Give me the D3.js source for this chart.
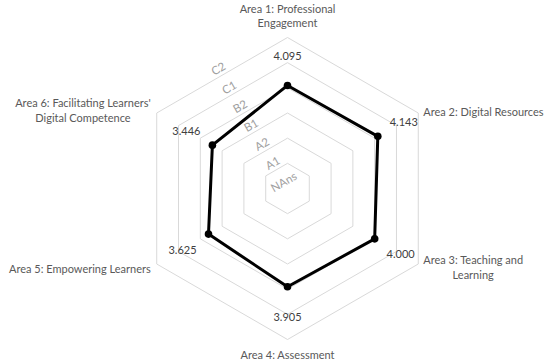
<!DOCTYPE html>
<html>
<head>
<meta charset="utf-8">
<script src="https://cdn.jsdelivr.net/npm/d3@7"></script>
<style>
  body { margin: 0; background: #fff; }
  svg { display: block; font-family: Lato, "Open Sans", sans-serif; }
</style>
</head>
<body>
<div id="chart"></div>
<script>
'use strict';

// axes, clockwise from the top
const areas = [
  ["Area 1: Professional", "Engagement"],
  ["Area 2: Digital Resources"],
  ["Area 3: Teaching and", "Learning"],
  ["Area 4: Assessment"],
  ["Area 5: Empowering Learners"],
  ["Area 6: Facilitating Learners'", "Digital Competence"]
];
const scores = [4.095, 4.143, 4.000, 3.905, 3.625, 3.446];
const levels = ["NAns", "A1", "A2", "B1", "B2", "C1", "C2"];

const width = 550;
const height = 363;
const cx = 287.5;
const cy = 188.5;
const radius = 151;

const svg = d3.select('#chart')
  .append('svg')
  .attr('width', width)
  .attr('height', height);

svg.append('rect').attr('width', width).attr('height', height).attr('fill', '#fff');

const g = svg.append('g').attr('transform', 'translate(' + cx + ',' + cy + ')');

const r = d3.scaleLinear().domain([0, levels.length - 1]).range([0, radius]);
const angle = d3.scaleLinear().domain([0, areas.length]).range([0, 2 * Math.PI]);

function point(i, v) {
  const a = angle(i);
  return [Math.sin(a) * r(v), -Math.cos(a) * r(v)];
}

const ring = d3.lineRadial()
  .angle(function(d, i) { return angle(i); })
  .radius(function(d) { return r(d); })
  .curve(d3.curveLinearClosed);

// grid hexagons
g.selectAll('.grid')
  .data(d3.range(1, levels.length))
  .enter()
  .append('path')
  .attr('class', 'grid')
  .attr('d', function(k) { return ring(areas.map(function() { return k; })); })
  .attr('fill', 'none')
  .attr('stroke', '#d9d9d9')
  .attr('stroke-width', 1);

// level labels, sitting along the edge between the first and last axis
const mid = -Math.PI / 6;
g.selectAll('.level')
  .data(levels)
  .enter()
  .append('text')
  .attr('class', 'level')
  .attr('transform', function(d, k) {
    const dist = r(k) * Math.cos(Math.PI / 6) + 8;
    return 'translate(' + (Math.sin(mid) * dist) + ',' + (-Math.cos(mid) * dist) + ') rotate(-30)';
  })
  .attr('text-anchor', 'middle')
  .attr('dominant-baseline', 'central')
  .attr('fill', '#a0a0a0')
  .style('font-size', '11.5px')
  .text(function(d) { return d; });

// data polygon
g.append('path')
  .attr('d', ring(scores))
  .attr('fill', 'none')
  .attr('stroke', '#000')
  .attr('stroke-width', 3)
  .attr('stroke-linejoin', 'round');

g.selectAll('.dot')
  .data(scores)
  .enter()
  .append('circle')
  .attr('class', 'dot')
  .attr('cx', function(d, i) { return point(i, d)[0]; })
  .attr('cy', function(d, i) { return point(i, d)[1]; })
  .attr('r', 3.8)
  .attr('fill', '#000');

// value labels, pushed out along each axis
g.selectAll('.value')
  .data(scores)
  .enter()
  .append('text')
  .attr('class', 'value')
  .attr('x', function(d, i) { const a = angle(i); return Math.sin(a) * (r(d) + 30); })
  .attr('y', function(d, i) { const a = angle(i); return -Math.cos(a) * (r(d) + 30); })
  .attr('text-anchor', 'middle')
  .attr('dominant-baseline', 'central')
  .attr('fill', '#404040')
  .style('font-size', '11px')
  .text(function(d) { return d3.format('.3f')(d); });

// category labels
const lineH = 14.5;
areas.forEach(function(lines, i) {
  const v = point(i, levels.length - 1);
  const sx = Math.round(Math.sin(angle(i)) * 100) / 100;
  const label = g.append('g').attr('class', 'cat');
  const texts = label.selectAll('text')
    .data(lines)
    .enter()
    .append('text')
    .attr('text-anchor', 'middle')
    .attr('dominant-baseline', 'central')
    .attr('fill', '#595959')
    .style('font-size', '11px')
    .attr('y', function(d, j) { return j * lineH; })
    .text(function(d) { return d; });

  let w = 0;
  texts.each(function() { w = Math.max(w, this.getComputedTextLength()); });
  const h = (lines.length - 1) * lineH;
  let x;
  let y;
  if (sx === 0) {
    x = v[0];
    y = v[1] < 0 ? v[1] - 15 - h : v[1] + 14.5;
  } else if (sx > 0) {
    x = v[0] + 5 + w / 2;
    y = v[1] + (v[1] < 0 ? -2 : 3) - h / 2;
  } else {
    x = v[0] - 6 - w / 2;
    y = v[1] + (v[1] < 0 ? -3 : 4) - h / 2;
  }
  label.attr('transform', 'translate(' + x + ',' + y + ')');
});
</script>
</body>
</html>
